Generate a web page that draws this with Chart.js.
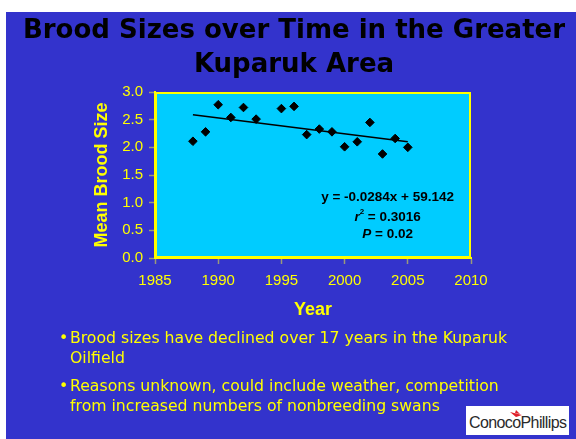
<!DOCTYPE html>
<html>
<head>
<meta charset="utf-8">
<script src="https://cdn.jsdelivr.net/npm/chart.js@4/dist/chart.umd.min.js"></script>
<style>
  html, body { margin: 0; padding: 0; background: #ffffff; }
  #slide { position: absolute; left: 6px; top: 12px; width: 570px; height: 427px; background: #3333CC; }
  #c { position: absolute; left: 0; top: 0; }
  .title { position: absolute; left: 0; width: 588px; text-align: center; top: 12px;
    font-family: "DejaVu Sans", sans-serif; font-weight: bold; font-size: 26px; line-height: 34px; color: #000; }
  .bul { position: absolute; left: 70px; font-family: "DejaVu Sans", sans-serif; font-size: 15.7px; line-height: 20px; color: #FFFF00; }
  .bul .dot { position: absolute; left: -11px; top: 0; }
  #logo { position: absolute; left: 466px; top: 406px; width: 103px; height: 29px; background: #fff; }
  #logo span { position: absolute; left: 3px; top: 8px; font-family: "Liberation Sans", Arial, sans-serif; font-size: 16px; color: #2a2a2a; letter-spacing: -0.6px; }
</style>
</head>
<body>
<div id="slide"></div>
<canvas id="c" width="576" height="439"></canvas>
<div class="title">Brood Sizes over Time in the Greater<br>Kuparuk Area</div>
<div class="bul" style="top:328px;"><span class="dot">•</span>Brood sizes have declined over 17 years in the Kuparuk<br>Oilfield</div>
<div class="bul" style="top:376px;"><span class="dot">•</span>Reasons unknown, could include weather, competition<br>from increased numbers of nonbreeding swans</div>
<div id="logo"><svg width="103" height="29" style="position:absolute;left:0;top:0"><path d="M44 6 L56 9 L50 11 Z M50 4 L54 8 L49 7 Z" fill="#E0202A"/></svg><span>ConocoPhillips</span></div>
<script>
const years = [1988, 1989, 1990, 1991, 1992, 1993, 1995, 1996, 1997, 1998, 1999, 2000, 2001, 2002, 2003, 2004, 2005];
const broodSizes = [2.11, 2.28, 2.77, 2.54, 2.72, 2.51, 2.70, 2.74, 2.23, 2.33, 2.28, 2.01, 2.10, 2.45, 1.88, 2.16, 2.00];
const trendYears = [1988, 2005];
const trendValues = [2.59, 2.10];
const equationLines = ["y = -0.0284x + 59.142", "r2 = 0.3016", "P = 0.02"];
const xTicks = [1985, 1990, 1995, 2000, 2005, 2010];
const yTicks = [0, 0.5, 1.0, 1.5, 2.0, 2.5, 3.0];

const YELLOW = '#FFFF00';
const AXIS_GREY = '#9A9A7A';

const plotBg = {
  id: 'plotBg',
  beforeDraw(chart) {
    const {ctx, chartArea: a} = chart;
    ctx.save();
    ctx.fillStyle = '#00CCFF';
    ctx.fillRect(a.left, a.top, a.right - a.left, a.bottom - a.top);
    ctx.restore();
  },
  afterDatasetsDraw(chart) {
    const {ctx, chartArea: a, scales} = chart;
    ctx.save();
    ctx.strokeStyle = YELLOW;
    ctx.lineWidth = 2;
    ctx.strokeRect(a.left + 1, a.top + 1, a.right - a.left - 2, a.bottom - a.top - 2);
    const F = 'bold 13.5px "Liberation Sans", Arial, sans-serif';
    const FI = 'italic bold 13.5px "Liberation Sans", Arial, sans-serif';
    const cx = scales.x.getPixelForValue(2003.4);
    ctx.fillStyle = '#000';
    ctx.textAlign = 'center';
    ctx.textBaseline = 'middle';
    ctx.font = F;
    ctx.fillText(equationLines[0], cx, scales.y.getPixelForValue(1.10));
    const y2 = scales.y.getPixelForValue(0.74);
    const rest = equationLines[1].slice(2);
    ctx.font = F;
    const wRest = ctx.measureText(rest).width;
    ctx.font = FI;
    const wR = ctx.measureText('r').width;
    ctx.font = 'bold 8px "Liberation Sans", Arial, sans-serif';
    const wSup = ctx.measureText('2').width;
    let x0 = cx - (wR + wSup + wRest) / 2;
    ctx.textAlign = 'left';
    ctx.font = FI;
    ctx.fillText('r', x0, y2);
    ctx.font = 'bold 8px "Liberation Sans", Arial, sans-serif';
    ctx.fillText('2', x0 + wR, y2 - 5);
    ctx.font = F;
    ctx.fillText(rest, x0 + wR + wSup, y2);
    const y3 = scales.y.getPixelForValue(0.43);
    const restP = equationLines[2].slice(1);
    ctx.font = F;
    const wRestP = ctx.measureText(restP).width;
    ctx.font = FI;
    const wP = ctx.measureText('P').width;
    x0 = cx - (wP + wRestP) / 2;
    ctx.fillText('P', x0, y3);
    ctx.font = F;
    ctx.fillText(restP, x0 + wP, y3);
    ctx.restore();
  }
};

new Chart(document.getElementById('c'), {
  type: 'scatter',
  data: {
    datasets: [
      {
        label: 'Trend',
        type: 'line',
        data: trendYears.map((x, i) => ({x, y: trendValues[i]})),
        borderColor: '#000',
        borderWidth: 1.5,
        pointRadius: 0,
        fill: false,
        order: 2
      },
      {
        label: 'Mean Brood Size',
        data: years.map((x, i) => ({x, y: broodSizes[i]})),
        pointStyle: 'rectRot',
        pointRadius: 4.3,
        pointHoverRadius: 4.3,
        backgroundColor: '#000',
        borderColor: '#000',
        borderWidth: 1,
        order: 1
      }
    ]
  },
  options: {
    responsive: false,
    animation: false,
    layout: { padding: { left: 91, top: 92, right: 105, bottom: 118 } },
    plugins: { legend: { display: false }, tooltip: { enabled: false } },
    scales: {
      x: {
        type: 'linear',
        min: xTicks[0], max: xTicks[xTicks.length - 1],
        afterFit(s) { s.height = 63; },
        afterBuildTicks(s) { s.ticks = xTicks.map(v => ({value: v})); },
        ticks: {
          color: YELLOW, padding: 8,
          font: { family: '"Liberation Sans", Arial, sans-serif', size: 15 },
          callback: v => String(v)
        },
        grid: { drawOnChartArea: false, drawTicks: true, tickLength: 6, tickColor: AXIS_GREY, tickWidth: 1.5 },
        border: { color: YELLOW, width: 2 },
        title: { display: true, text: 'Year', color: YELLOW, padding: 0,
          font: { family: '"Liberation Sans", Arial, sans-serif', size: 18, weight: 'bold' } }
      },
      y: {
        type: 'linear',
        min: yTicks[0], max: yTicks[yTicks.length - 1],
        afterFit(s) { s.width = 64; },
        afterBuildTicks(s) { s.ticks = yTicks.map(v => ({value: v})); },
        ticks: {
          color: YELLOW, padding: 6,
          font: { family: '"Liberation Sans", Arial, sans-serif', size: 15 },
          callback: v => Number(v).toFixed(1)
        },
        grid: { drawOnChartArea: false, drawTicks: true, tickLength: 6, tickColor: AXIS_GREY, tickWidth: 1.5 },
        border: { color: YELLOW, width: 2 },
        title: { display: true, text: 'Mean Brood Size', color: YELLOW, padding: 0,
          font: { family: '"Liberation Sans", Arial, sans-serif', size: 18, weight: 'bold' } }
      }
    }
  },
  plugins: [plotBg]
});
</script>
</body>
</html>
